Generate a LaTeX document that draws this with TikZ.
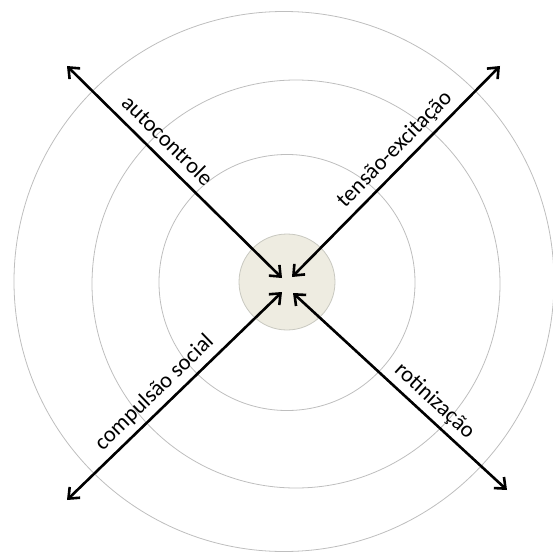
\documentclass[tikz,border=0pt]{standalone}
\usepackage{fontspec}
\setmainfont{Carlito}
\usetikzlibrary{arrows.meta}
\definecolor{ringgray}{RGB}{190,190,190}
\definecolor{corefill}{RGB}{238,236,225}
\definecolor{coredraw}{RGB}{200,200,192}
\begin{document}
\begin{tikzpicture}[x=1pt,y=-1pt,
  ring/.style={draw=ringgray, line width=0.8pt},
  arr/.style={line width=2.6pt, {Straight Barb[length=9pt,width=15pt]}-{Straight Barb[length=9pt,width=15pt]}},
  lab/.style={sloped, above=9pt, inner sep=0pt, text depth=0pt, font=\fontsize{22.5}{27}\selectfont}]
\useasboundingbox (0,0) rectangle (553,559);
\begin{scope}
\clip (0,0) rectangle (553,559);
\draw[ring] (284,281.5) circle[radius=270];
\draw[ring] (296,284) circle[radius=204];
\draw[ring] (287,282.5) circle[radius=128];
\end{scope}
\node[circle, fill=corefill, draw=coredraw, line width=0.8pt, minimum size=96pt, inner sep=0pt] (core) at (287,282) {};
\coordinate (tlout) at (67,66);
\coordinate (tlin) at (282,278);
\coordinate (trout) at (500,66);
\coordinate (trin) at (292,277);
\coordinate (blout) at (67,500);
\coordinate (blin) at (282,292);
\coordinate (brout) at (507,490);
\coordinate (brin) at (293,293);
\draw[arr] (tlout) -- (tlin) node[lab, pos=0.41] (l1) {autocontrole};
\draw[arr] (trin) -- (trout) node[lab, pos=0.55] (l2) {tensão-excitação};
\draw[arr] (blout) -- (blin) node[lab, pos=0.46] (l3) {compulsão social};
\draw[arr] (brin) -- (brout) node[lab, pos=0.61] (l4) {rotinização};
\end{tikzpicture}
\end{document}
